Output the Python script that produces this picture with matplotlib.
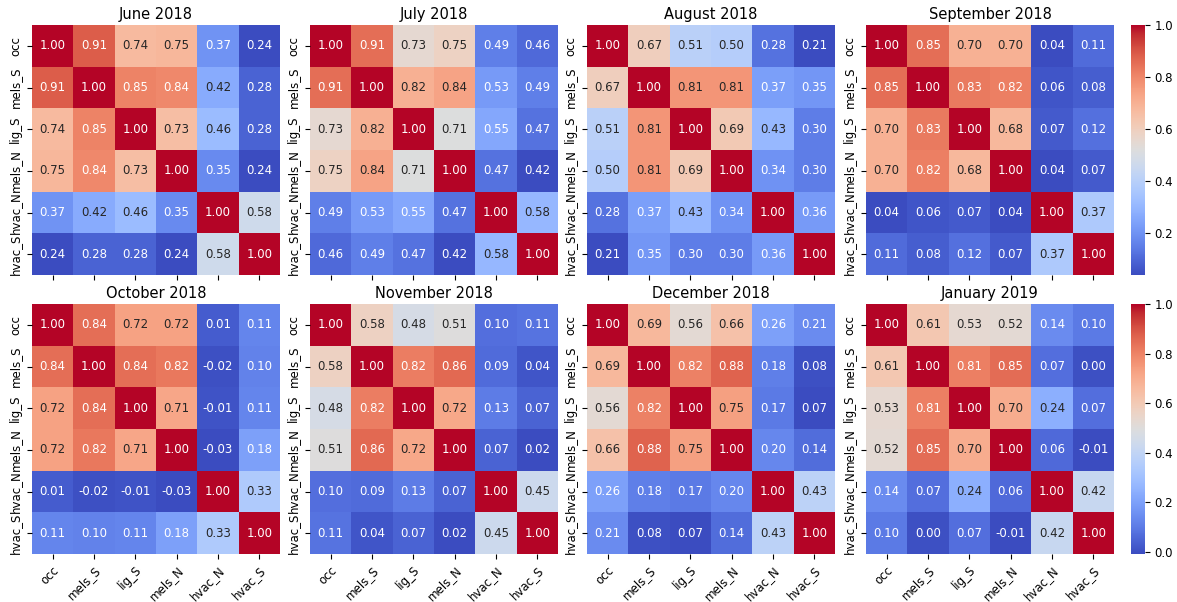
import numpy as np
import matplotlib
matplotlib.use("Agg")
import matplotlib.pyplot as plt
import seaborn as sns

labels = ["occ", "mels_S", "lig_S", "mels_N", "hvac_N", "hvac_S"]
months = ["June 2018", "July 2018", "August 2018", "September 2018",
          "October 2018", "November 2018", "December 2018", "January 2019"]

corr_jun = [[1.00, 0.91, 0.74, 0.75, 0.37, 0.24],
            [0.91, 1.00, 0.85, 0.84, 0.42, 0.28],
            [0.74, 0.85, 1.00, 0.73, 0.46, 0.28],
            [0.75, 0.84, 0.73, 1.00, 0.35, 0.24],
            [0.37, 0.42, 0.46, 0.35, 1.00, 0.58],
            [0.24, 0.28, 0.28, 0.24, 0.58, 1.00]]
corr_jul = [[1.00, 0.91, 0.73, 0.75, 0.49, 0.46],
            [0.91, 1.00, 0.82, 0.84, 0.53, 0.49],
            [0.73, 0.82, 1.00, 0.71, 0.55, 0.47],
            [0.75, 0.84, 0.71, 1.00, 0.47, 0.42],
            [0.49, 0.53, 0.55, 0.47, 1.00, 0.58],
            [0.46, 0.49, 0.47, 0.42, 0.58, 1.00]]
corr_aug = [[1.00, 0.67, 0.51, 0.50, 0.28, 0.21],
            [0.67, 1.00, 0.81, 0.81, 0.37, 0.35],
            [0.51, 0.81, 1.00, 0.69, 0.43, 0.30],
            [0.50, 0.81, 0.69, 1.00, 0.34, 0.30],
            [0.28, 0.37, 0.43, 0.34, 1.00, 0.36],
            [0.21, 0.35, 0.30, 0.30, 0.36, 1.00]]
corr_sep = [[1.00, 0.85, 0.70, 0.70, 0.04, 0.11],
            [0.85, 1.00, 0.83, 0.82, 0.06, 0.08],
            [0.70, 0.83, 1.00, 0.68, 0.07, 0.12],
            [0.70, 0.82, 0.68, 1.00, 0.04, 0.07],
            [0.04, 0.06, 0.07, 0.04, 1.00, 0.37],
            [0.11, 0.08, 0.12, 0.07, 0.37, 1.00]]
corr_oct = [[1.00, 0.84, 0.72, 0.72, 0.01, 0.11],
            [0.84, 1.00, 0.84, 0.82, -0.02, 0.10],
            [0.72, 0.84, 1.00, 0.71, -0.01, 0.11],
            [0.72, 0.82, 0.71, 1.00, -0.03, 0.18],
            [0.01, -0.02, -0.01, -0.03, 1.00, 0.33],
            [0.11, 0.10, 0.11, 0.18, 0.33, 1.00]]
corr_nov = [[1.00, 0.58, 0.48, 0.51, 0.10, 0.11],
            [0.58, 1.00, 0.82, 0.86, 0.09, 0.04],
            [0.48, 0.82, 1.00, 0.72, 0.13, 0.07],
            [0.51, 0.86, 0.72, 1.00, 0.07, 0.02],
            [0.10, 0.09, 0.13, 0.07, 1.00, 0.45],
            [0.11, 0.04, 0.07, 0.02, 0.45, 1.00]]
corr_dec = [[1.00, 0.69, 0.56, 0.66, 0.26, 0.21],
            [0.69, 1.00, 0.82, 0.88, 0.18, 0.08],
            [0.56, 0.82, 1.00, 0.75, 0.17, 0.07],
            [0.66, 0.88, 0.75, 1.00, 0.20, 0.14],
            [0.26, 0.18, 0.17, 0.20, 1.00, 0.43],
            [0.21, 0.08, 0.07, 0.14, 0.43, 1.00]]
corr_jan = [[1.00, 0.61, 0.53, 0.52, 0.14, 0.10],
            [0.61, 1.00, 0.81, 0.85, 0.07, 0.00],
            [0.53, 0.81, 1.00, 0.70, 0.24, 0.07],
            [0.52, 0.85, 0.70, 1.00, 0.06, -0.01],
            [0.14, 0.07, 0.24, 0.06, 1.00, 0.42],
            [0.10, 0.00, 0.07, -0.01, 0.42, 1.00]]

matrices = [corr_jun, corr_jul, corr_aug, corr_sep,
            corr_oct, corr_nov, corr_dec, corr_jan]

W, H = 1177, 602
fig = plt.figure(figsize=(W / 100, H / 100), dpi=100)

# pixel boxes (left, top) of each heatmap, all about 248x250
lefts = [32, 310, 587, 866]
tops = [25, 304]
pw, ph = 248, 250

for i, (name, mat) in enumerate(zip(months, matrices)):
    row, col = divmod(i, 4)
    x0, y0 = lefts[col], tops[row]
    ax = fig.add_axes([x0 / W, (H - y0 - ph) / H, pw / W, ph / H])
    last = col == 3
    cax = None
    if last:
        cax = fig.add_axes([1131 / W, (H - y0 - ph) / H, 14 / W, ph / H])
    sns.heatmap(np.array(mat), ax=ax, cmap="coolwarm", annot=True, fmt=".2f",
                annot_kws={"fontsize": 8.5}, xticklabels=labels, yticklabels=labels,
                cbar=last, cbar_ax=cax)
    ax.set_title(name, fontsize=10.5, pad=4)
    ax.tick_params(labelsize=8.5)
    ax.set_yticklabels(labels, rotation=90, va="center")
    if row == 0:
        ax.set_xticklabels([])
    else:
        ax.set_xticklabels(labels, rotation=45, ha="right", rotation_mode="anchor")
    if cax is not None:
        cax.tick_params(labelsize=8.5)

fig.savefig("out.png", dpi=100)
